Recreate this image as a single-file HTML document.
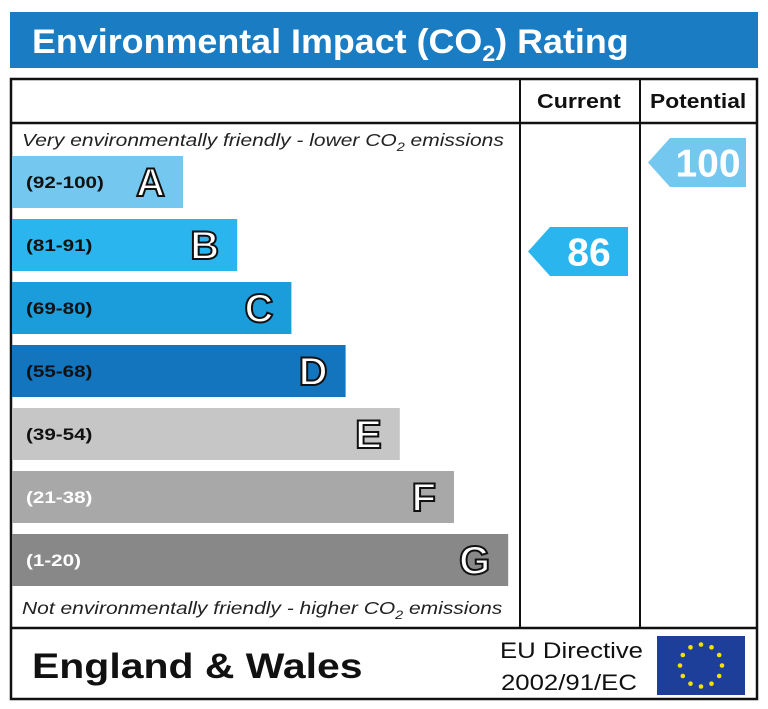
<!DOCTYPE html>
<html><head><meta charset="utf-8"><style>
html,body{margin:0;padding:0;background:#fff;}
svg{display:block;font-family:"Liberation Sans",Arial,sans-serif;}
</style></head><body>
<svg id="c" width="768" height="709" viewBox="0 0 768 709" xmlns="http://www.w3.org/2000/svg">
<rect x="10" y="12" width="748" height="56" fill="#1a7cc2"/>
<text transform="translate(32,53) scale(1.055,1)" font-size="34" font-weight="bold" fill="#fff">Environmental Impact (CO<tspan font-size="22" dy="8">2</tspan><tspan dy="-8">) Rating</tspan></text>
<rect x="11" y="79" width="746" height="620" fill="none" stroke="#111" stroke-width="2.5"/>
<line x1="11" y1="123" x2="757" y2="123" stroke="#111" stroke-width="2.5"/>
<line x1="520" y1="79" x2="520" y2="628" stroke="#111" stroke-width="2"/>
<line x1="640" y1="79" x2="640" y2="628" stroke="#111" stroke-width="2"/>
<line x1="11" y1="628" x2="757" y2="628" stroke="#111" stroke-width="2.5"/>
<text transform="translate(537,108) scale(1.16,1)" font-size="20" font-weight="bold" fill="#111">Current</text>
<text transform="translate(650,108) scale(1.14,1)" font-size="20" font-weight="bold" fill="#111">Potential</text>
<text transform="translate(22,146) scale(1.2,1)" font-size="17.5" font-style="italic" fill="#222">Very environmentally friendly - lower CO<tspan font-size="12" dy="5">2</tspan><tspan dy="-5"> emissions</tspan></text>
<text transform="translate(22,614) scale(1.2,1)" font-size="17.5" font-style="italic" fill="#222">Not environmentally friendly - higher CO<tspan font-size="12" dy="5">2</tspan><tspan dy="-5"> emissions</tspan></text>
<g id="bars"></g>
<g id="arrows"></g>
<text transform="translate(32,678) scale(1.17,1)" font-size="35" font-weight="bold" fill="#111">England &amp; Wales</text>
<text transform="translate(500,658) scale(1.17,1)" font-size="22" fill="#111">EU Directive</text>
<text transform="translate(501,690) scale(1.17,1)" font-size="22" fill="#111">2002/91/EC</text>
<rect x="657" y="636" width="88" height="59" fill="#1d3f9a"/>
<g id="stars" fill="#f5e000"></g>
</svg>
<script>
const bands = ["A","B","C","D","E","F","G"];
const ranges = ["(92-100)","(81-91)","(69-80)","(55-68)","(39-54)","(21-38)","(1-20)"];
const colors = ["#74c8ef","#2bb5ef","#1b9ddb","#1275bd","#c6c6c6","#a8a8a8","#888888"];
const currentRating = 86;
const potentialRating = 100;
const mins = [92,81,69,55,39,21,1];

const NS="http://www.w3.org/2000/svg";
const bars=document.getElementById('bars');
function mk(t,a){const e=document.createElementNS(NS,t);for(const k in a)e.setAttribute(k,a[k]);return e;}
const x0=12, w0=171, dw=54.2, y0=156, h=52, step=63;
bands.forEach((b,i)=>{
  const y=y0+i*step, w=w0+i*dw;
  const r=mk('rect',{x:x0,y:y,width:w,height:h,fill:colors[i]});
  
  
  bars.appendChild(r);
  const t=mk('text',{transform:`translate(26,${y+h/2+6}) scale(1.25,1)`,'font-size':16.5,'font-weight':'bold',fill:i>=5?'#fff':'#111'});
  t.textContent=ranges[i];
  
  
  bars.appendChild(t);
  const l=mk('text',{x:x0+w-18,y:y+h/2+14,'font-size':40,'font-weight':'bold',fill:'#fff',stroke:'#111','stroke-width':2,'text-anchor':'end'});
  l.textContent=b;
  
  
  bars.appendChild(l);
});
function bandIdx(v){for(let i=0;i<mins.length;i++)if(v>=mins[i])return i;return 6;}
const arrows=document.getElementById('arrows');
function arrow(v,xl,xr,name){
  const i=bandIdx(v), y=y0+i*step-(i===0?18:-8), hh=49;
  const p=mk('polygon',{points:`${xl},${y+hh/2} ${xl+22},${y} ${xr},${y} ${xr},${y+hh} ${xl+22},${y+hh}`,fill:colors[i]});
  
  
  arrows.appendChild(p);
  const t=mk('text',{x:(xl+xr)/2+11,y:y+hh/2+14,'font-size':39,'font-weight':'bold',fill:'#fff','text-anchor':'middle'});
  t.textContent=v;
  
  
  arrows.appendChild(t);
}
arrow(currentRating,528,628,'current');
arrow(potentialRating,648,746,'potential');
const stars=document.getElementById('stars');
for(let k=0;k<12;k++){
  const a=k*Math.PI/6, cx=701+21*Math.sin(a), cy=665.5-21*Math.cos(a);
  const s=mk('circle',{cx:cx,cy:cy,r:2.3});
  
  
  stars.appendChild(s);
}
</script>
</body></html>
